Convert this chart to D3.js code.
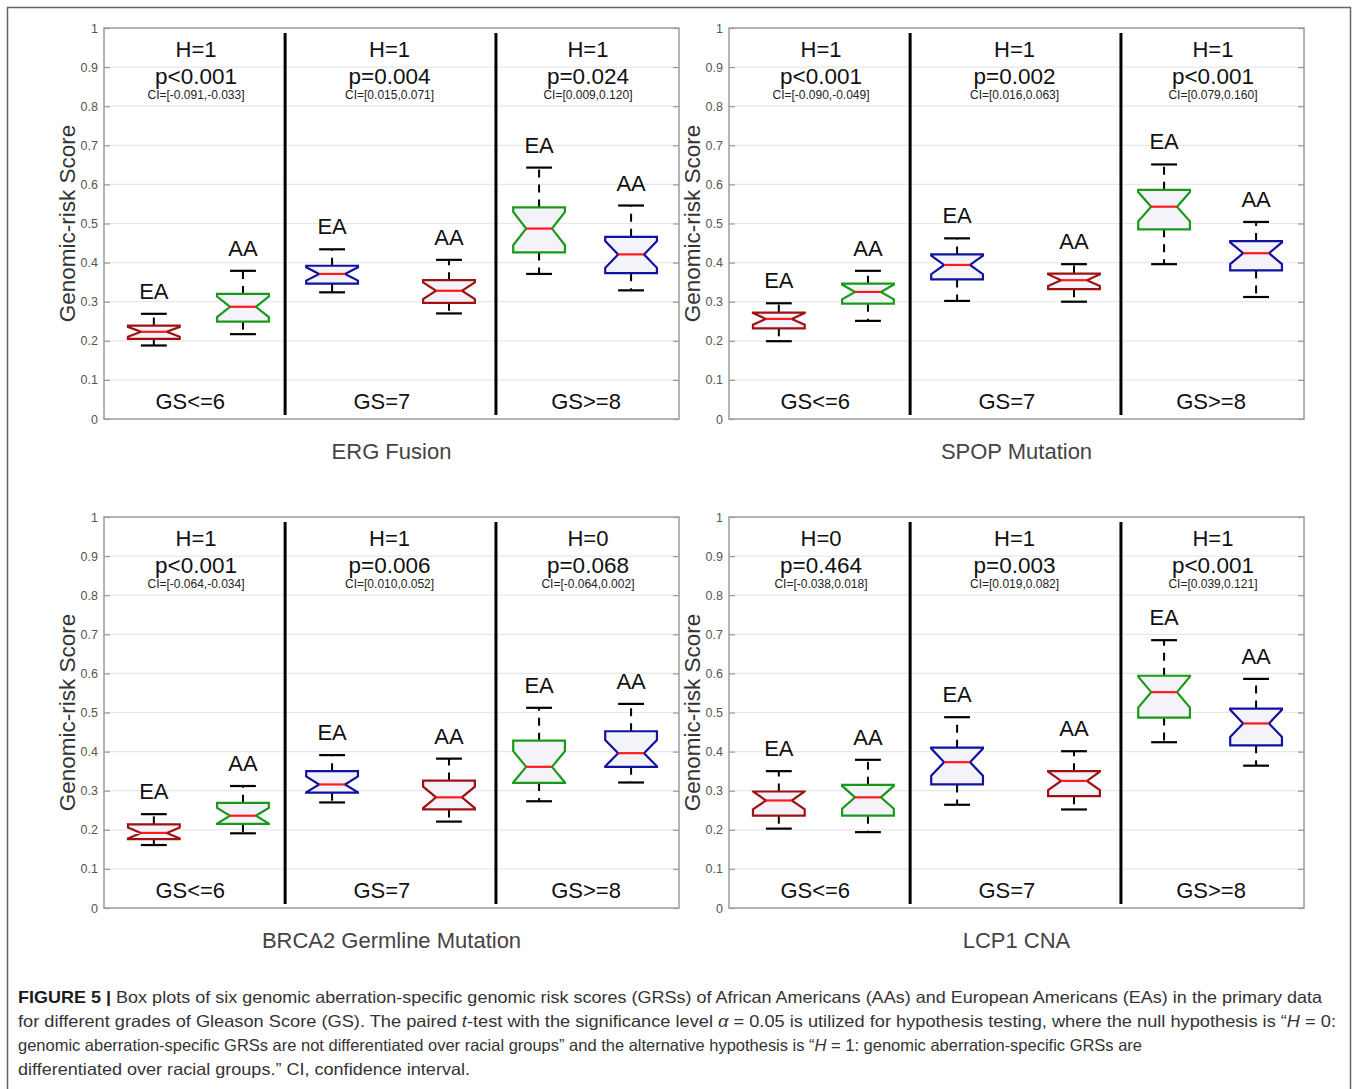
<!DOCTYPE html>
<html>
<head>
<meta charset="utf-8">
<script src="https://cdn.jsdelivr.net/npm/d3@7"></script>
<style>
  body { margin: 0; background: #fff; }
  svg { display: block; }
</style>
</head>
<body>
<script>
// ---- Data ---------------------------------------------------------------
const panelTitles = ["ERG Fusion", "SPOP Mutation", "BRCA2 Germline Mutation", "LCP1 CNA"];
const groupLabels = ["EA", "AA", "EA", "AA", "EA", "AA"];
const gsLabels = ["GS<=6", "GS=7", "GS>=8"];
const yTicks = [0, 0.1, 0.2, 0.3, 0.4, 0.5, 0.6, 0.7, 0.8, 0.9, 1];

const hLabels = [
  ["H=1", "H=1", "H=1"],
  ["H=1", "H=1", "H=1"],
  ["H=1", "H=1", "H=0"],
  ["H=0", "H=1", "H=1"]
];
const pLabels = [
  ["p<0.001", "p=0.004", "p=0.024"],
  ["p<0.001", "p=0.002", "p<0.001"],
  ["p<0.001", "p=0.006", "p=0.068"],
  ["p=0.464", "p=0.003", "p<0.001"]
];
const ciLabels = [
  ["CI=[-0.091,-0.033]", "CI=[0.015,0.071]", "CI=[0.009,0.120]"],
  ["CI=[-0.090,-0.049]", "CI=[0.016,0.063]", "CI=[0.079,0.160]"],
  ["CI=[-0.064,-0.034]", "CI=[0.010,0.052]", "CI=[-0.064,0.002]"],
  ["CI=[-0.038,0.018]", "CI=[0.019,0.082]", "CI=[0.039,0.121]"]
];

// Box statistics, one row per panel, order EA/AA for GS<=6, GS=7, GS>=8
const whiskerHigh = [
  [0.269, 0.379, 0.434, 0.407, 0.643, 0.546],
  [0.296, 0.379, 0.462, 0.396, 0.651, 0.504],
  [0.240, 0.312, 0.391, 0.382, 0.512, 0.522],
  [0.350, 0.379, 0.488, 0.401, 0.685, 0.586]
];
const upperQuartile = [
  [0.239, 0.320, 0.392, 0.355, 0.541, 0.466],
  [0.272, 0.346, 0.421, 0.372, 0.586, 0.455],
  [0.214, 0.269, 0.350, 0.326, 0.428, 0.452],
  [0.298, 0.315, 0.410, 0.350, 0.594, 0.510]
];
const medians = [
  [0.223, 0.287, 0.371, 0.328, 0.487, 0.421],
  [0.256, 0.325, 0.394, 0.355, 0.543, 0.424],
  [0.192, 0.236, 0.316, 0.283, 0.361, 0.396],
  [0.275, 0.283, 0.373, 0.325, 0.552, 0.472]
];
const lowerQuartile = [
  [0.205, 0.249, 0.346, 0.297, 0.426, 0.373],
  [0.232, 0.295, 0.357, 0.332, 0.485, 0.380],
  [0.176, 0.215, 0.295, 0.252, 0.320, 0.361],
  [0.236, 0.236, 0.316, 0.286, 0.487, 0.416]
];
const whiskerLow = [
  [0.188, 0.217, 0.324, 0.270, 0.371, 0.329],
  [0.199, 0.251, 0.302, 0.300, 0.396, 0.312],
  [0.161, 0.191, 0.270, 0.221, 0.273, 0.321],
  [0.203, 0.194, 0.264, 0.252, 0.424, 0.364]
];
// group size used for the notch half-height (1.57 * IQR / sqrt(n))
const groupSize = 18;

// ---- Layout & style -----------------------------------------------------
const FONT = "'Liberation Sans', Arial, Helvetica, sans-serif";
const panelOrigins = [[104, 28], [729, 28], [104, 517], [729, 517]];
const W = 575, H = 391;
const boxPositions = [1.02, 1.95, 2.88, 4.10, 5.04, 6.00];
const separatorPositions = [2.39, 4.59];
const statCenters = [1.46, 3.48, 5.55];
const gsCenters = [1.40, 3.40, 5.53];
const boxWidth = 0.54;
const boxColors = ["#a01212", "#189a18", "#1212a0", "#a01212", "#189a18", "#1212a0"];

const svg = d3.select("body").append("svg")
  .attr("width", 1358).attr("height", 1089)
  .style("font-family", FONT);

// outer figure frame
svg.append("rect")
  .attr("x", 7.5).attr("y", 7.5).attr("width", 1343).attr("height", 1110)
  .attr("fill", "none").attr("stroke", "#666").attr("stroke-width", 1.5);

const x = d3.scaleLinear().domain([0.5, 6.5]).range([0, W]);
const y = d3.scaleLinear().domain([0, 1]).range([H, 0]);
const tickFmt = d => (d === 0 ? "0" : d === 1 ? "1" : d3.format(".1f")(d));
const halfBox = (x(boxWidth) - x(0)) / 2;

panelTitles.forEach((title, p) => {
  const [ox, oy] = panelOrigins[p];
  const g = svg.append("g").attr("transform", `translate(${ox},${oy})`);

  // horizontal grid
  g.append("g").selectAll("line")
    .data(yTicks.slice(1, -1))
    .join("line")
    .attr("x1", 0).attr("x2", W)
    .attr("y1", d => y(d)).attr("y2", d => y(d))
    .attr("stroke", "#e8e8e8").attr("stroke-width", 1.2);

  // left axis with inward ticks
  const axL = g.append("g").call(
    d3.axisLeft(y).tickValues(yTicks).tickSize(-6).tickPadding(6).tickFormat(tickFmt));
  axL.select(".domain").remove();
  axL.selectAll("line").attr("stroke", "#999").attr("stroke-width", 1.2);
  axL.selectAll("text").attr("fill", "#555")
    .style("font-size", "12.5px").style("font-family", FONT);

  // right axis, ticks only
  const axR = g.append("g").attr("transform", `translate(${W},0)`).call(
    d3.axisRight(y).tickValues(yTicks).tickSize(-6).tickFormat(""));
  axR.select(".domain").remove();
  axR.selectAll("line").attr("stroke", "#999").attr("stroke-width", 1.2);

  // plot frame
  g.append("rect")
    .attr("width", W).attr("height", H)
    .attr("fill", "none").attr("stroke", "#9c9c9c").attr("stroke-width", 1.5);

  // y axis title
  g.append("text")
    .attr("transform", `translate(-29,${H / 2}) rotate(-90)`)
    .attr("text-anchor", "middle")
    .attr("fill", "#333")
    .style("font-size", "22.5px")
    .text("Genomic-risk Score");

  // Gleason-score section separators
  g.append("g").selectAll("line")
    .data(separatorPositions)
    .join("line")
    .attr("x1", d => x(d)).attr("x2", d => x(d))
    .attr("y1", y(0.987)).attr("y2", y(0.01))
    .attr("stroke", "#000").attr("stroke-width", 3);

  // test statistics per section
  const stats = g.append("g").attr("text-anchor", "middle").attr("fill", "#111");
  statCenters.forEach((c, s) => {
    stats.append("text").attr("x", x(c)).attr("y", 29)
      .style("font-size", "22px").text(hLabels[p][s]);
    stats.append("text").attr("x", x(c)).attr("y", 55.5)
      .style("font-size", "22.5px").text(pLabels[p][s]);
    stats.append("text").attr("x", x(c)).attr("y", 70.5)
      .style("font-size", "12px").attr("fill", "#222").text(ciLabels[p][s]);
  });

  // GS section labels
  g.append("g").attr("text-anchor", "middle").selectAll("text")
    .data(gsLabels)
    .join("text")
    .attr("x", (d, i) => x(gsCenters[i]))
    .attr("y", H - 10)
    .attr("fill", "#111")
    .style("font-size", "22px")
    .text(d => d);

  // boxes
  const boxes = d3.range(6).map(i => ({
    pos: boxPositions[i],
    hi: whiskerHigh[p][i],
    q3: upperQuartile[p][i],
    med: medians[p][i],
    q1: lowerQuartile[p][i],
    lo: whiskerLow[p][i],
    label: groupLabels[i],
    color: boxColors[i]
  }));

  const bg = g.append("g").selectAll("g").data(boxes).join("g");

  // dashed whiskers
  bg.append("line")
    .attr("x1", d => x(d.pos)).attr("x2", d => x(d.pos))
    .attr("y1", d => y(d.q3)).attr("y2", d => y(d.hi))
    .attr("stroke", "#000").attr("stroke-width", 2).attr("stroke-dasharray", "8,7");
  bg.append("line")
    .attr("x1", d => x(d.pos)).attr("x2", d => x(d.pos))
    .attr("y1", d => y(d.q1)).attr("y2", d => y(d.lo))
    .attr("stroke", "#000").attr("stroke-width", 2).attr("stroke-dasharray", "8,7");

  // whisker caps
  ["hi", "lo"].forEach(k => {
    bg.append("line")
      .attr("x1", d => x(d.pos) - halfBox / 2).attr("x2", d => x(d.pos) + halfBox / 2)
      .attr("y1", d => y(d[k])).attr("y2", d => y(d[k]))
      .attr("stroke", "#000").attr("stroke-width", 2.2);
  });

  // notched box outline
  bg.append("path")
    .attr("d", d => {
      const n = 1.57 * (d.q3 - d.q1) / Math.sqrt(groupSize);
      const nt = Math.min(d.med + n, d.q3);
      const nb = Math.max(d.med - n, d.q1);
      const cx = x(d.pos);
      const pts = [
        [cx - halfBox, y(d.q3)], [cx + halfBox, y(d.q3)],
        [cx + halfBox, y(nt)], [cx + halfBox / 2, y(d.med)],
        [cx + halfBox, y(nb)], [cx + halfBox, y(d.q1)],
        [cx - halfBox, y(d.q1)], [cx - halfBox, y(nb)],
        [cx - halfBox / 2, y(d.med)], [cx - halfBox, y(nt)]
      ];
      return d3.line()(pts) + "Z";
    })
    .attr("fill", "#f3f3f9")
    .attr("stroke", d => d.color)
    .attr("stroke-width", 2.2)
    .attr("stroke-linejoin", "miter");

  // median
  bg.append("line")
    .attr("x1", d => x(d.pos) - halfBox / 2).attr("x2", d => x(d.pos) + halfBox / 2)
    .attr("y1", d => y(d.med)).attr("y2", d => y(d.med))
    .attr("stroke", "#ff1a1a").attr("stroke-width", 2.2);

  // group labels above the upper whisker
  bg.append("text")
    .attr("x", d => x(d.pos))
    .attr("y", d => y(d.hi) - 15)
    .attr("text-anchor", "middle")
    .attr("fill", "#111")
    .style("font-size", "22px")
    .text(d => d.label);

  // panel title
  g.append("text")
    .attr("x", W / 2).attr("y", H + 40)
    .attr("text-anchor", "middle")
    .attr("fill", "#444")
    .style("font-size", "22px")
    .text(title);
});

// ---- Caption ------------------------------------------------------------
const captionLines = [
  [{ t: "FIGURE 5 | ", w: "bold" },
   { t: "Box plots of six genomic aberration-specific genomic risk scores (GRSs) of African Americans (AAs) and European Americans (EAs) in the primary data" }],
  [{ t: "for different grades of Gleason Score (GS). The paired " }, { t: "t", i: true },
   { t: "-test with the significance level " }, { t: "α", i: true },
   { t: " = 0.05 is utilized for hypothesis testing, where the null hypothesis is “" },
   { t: "H", i: true }, { t: " = 0:" }],
  [{ t: "genomic aberration-specific GRSs are not differentiated over racial groups” and the alternative hypothesis is “" },
   { t: "H", i: true }, { t: " = 1: genomic aberration-specific GRSs are" }],
  [{ t: "differentiated over racial groups.” CI, confidence interval." }]
];
const captionWidths = [1304, 1318, 1124, 452];
const captionBaselines = [1003, 1027, 1051, 1075];

captionLines.forEach((parts, li) => {
  const t = svg.append("text")
    .attr("x", 18).attr("y", captionBaselines[li])
    .attr("fill", "#333")
    .attr("textLength", captionWidths[li])
    .attr("lengthAdjust", "spacingAndGlyphs")
    .style("font-size", "16.5px");
  parts.forEach(part => {
    const s = t.append("tspan").text(part.t);
    if (part.w) s.attr("font-weight", part.w).attr("fill", "#1a1a1a");
    if (part.i) s.attr("font-style", "italic");
  });
});
</script>
</body>
</html>
